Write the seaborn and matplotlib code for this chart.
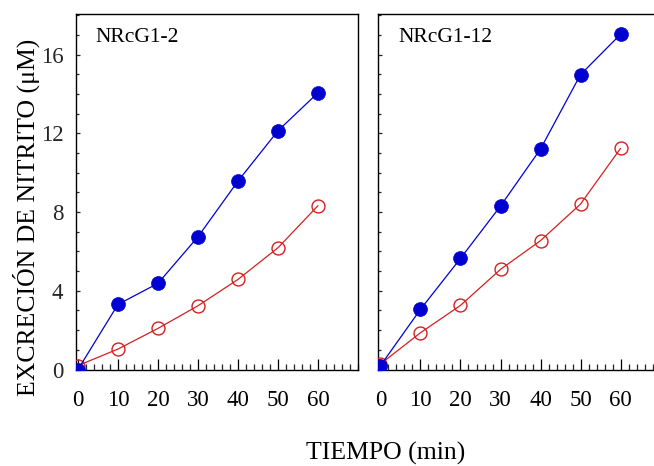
import matplotlib
matplotlib.use("Agg")
import matplotlib.pyplot as plt
import seaborn as sns
import numpy as np
import pandas as pd
from matplotlib.ticker import MultipleLocator

# ---- data ----
time_min = [0, 10, 20, 30, 40, 50, 60]
left_title = "NRcG1-2"
right_title = "NRcG1-12"
left_filled = [0.0, 3.31, 4.38, 6.75, 9.58, 12.14, 14.07]
left_open = [0.2, 1.04, 2.09, 3.24, 4.58, 6.19, 8.33]
right_filled = [0.2, 3.06, 5.65, 8.31, 11.21, 14.99, 17.04]
right_open = [0.28, 1.87, 3.26, 5.09, 6.55, 8.41, 11.24]
x_ticks = [0, 10, 20, 30, 40, 50, 60]
y_ticks = [0, 4, 8, 12, 16]
ylabel = "EXCRECIÓN DE NITRITO (μM)"
xlabel = "TIEMPO (min)"

sns.set_style("ticks")
plt.rcParams["font.family"] = ["Liberation Serif", "DejaVu Serif"]
plt.rcParams["mathtext.fontset"] = "stix"

BLUE = "#0000D0"
RED = "#D42020"

W, H = 654, 466
fig = plt.figure(figsize=(W / 100, H / 100), dpi=100)

ax_w = 282 / W
ax_h = 356 / H
ax_b = (H - 369.5) / H
axL = fig.add_axes([76 / W, ax_b, ax_w, ax_h])
axR = fig.add_axes([378.5 / W, ax_b, ax_w, ax_h])

panels = [
    (axL, left_filled, left_open, left_title, True),
    (axR, right_filled, right_open, right_title, False),
]

for ax, filled, opn, title, show_y in panels:
    df_f = pd.DataFrame({"t": time_min, "v": filled})
    df_o = pd.DataFrame({"t": time_min, "v": opn})
    sns.lineplot(data=df_o, x="t", y="v", ax=ax, color=RED, lw=0.9,
                 marker="o", markersize=9.3, markerfacecolor="none",
                 markeredgecolor=RED, markeredgewidth=1.0, zorder=3)
    sns.lineplot(data=df_f, x="t", y="v", ax=ax, color=BLUE, lw=0.9,
                 marker="o", markersize=10.0, markerfacecolor=BLUE,
                 markeredgecolor=BLUE, markeredgewidth=0.5, zorder=4)
    ax.set_xlim(-0.5, 70)
    ax.set_ylim(0, 18.1)
    ax.set_xlabel("")
    ax.set_ylabel("")
    ax.set_xticks(x_ticks)
    ax.set_xticklabels([str(v) for v in x_ticks])
    ax.xaxis.set_minor_locator(MultipleLocator(2))
    ax.set_yticks(y_ticks)
    ax.yaxis.set_minor_locator(MultipleLocator(1))
    if show_y:
        ax.set_yticklabels([str(v) for v in y_ticks])
    else:
        ax.set_yticklabels([])
    ax.tick_params(axis="x", which="major", direction="in", length=8, width=0.9,
                   pad=15, labelsize=16.5, colors="black", top=False)
    ax.tick_params(axis="x", which="minor", direction="in", length=4.3, width=0.9,
                   top=False)
    ax.tick_params(axis="y", which="major", direction="in", length=3.2, width=0.9,
                   pad=9, labelsize=16.5, right=False)
    ax.tick_params(axis="y", which="minor", direction="in", length=2.4, width=0.9,
                   right=False)
    for sp in ax.spines.values():
        sp.set_visible(True)
        sp.set_linewidth(1.0)
        sp.set_color("black")
    ax.text(0.068 if show_y else 0.072, 0.932, title, transform=ax.transAxes,
            ha="left", va="center", fontsize=15.5, color="black")

fig.text(26.3 / W, (H - 217) / H, ylabel, rotation=90, ha="center",
         va="center", fontsize=18.5, color="black")
fig.text(385.5 / W, (H - 460) / H, xlabel, ha="center", va="baseline",
         fontsize=18.5, color="black")

fig.savefig("out.png", dpi=100)
